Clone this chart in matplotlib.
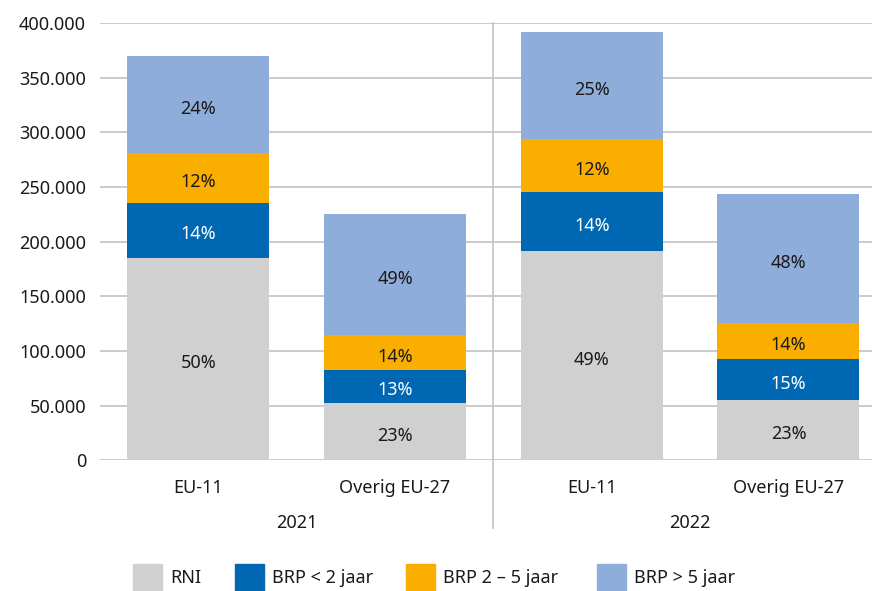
import matplotlib
matplotlib.use("Agg")
import matplotlib.pyplot as plt
from matplotlib.patches import Rectangle
from matplotlib.ticker import FuncFormatter
import matplotlib.transforms as mtransforms

plt.rcParams['font.family'] = ['Noto Sans', 'DejaVu Sans']

# Data
years = ["2021", "2022"]
groups = ["EU-11", "Overig EU-27", "EU-11", "Overig EU-27"]
series = ["RNI", "BRP < 2 jaar", "BRP 2 – 5 jaar", "BRP > 5 jaar"]
rni = [185300, 52700, 191700, 55200]
brp_lt2 = [50300, 29900, 53700, 37500]
brp_2_5 = [45200, 32000, 48200, 33100]
brp_gt5 = [89000, 110700, 98100, 117800]
y_ticks = [0, 50000, 100000, 150000, 200000, 250000, 300000, 350000, 400000]

colors = ["#d0d0d0", "#0068b3", "#f9ae00", "#8fadda"]
text_colors = ["#1a1a1a", "white", "#1a1a1a", "#1a1a1a"]

W, H = 872, 591
fig = plt.figure(figsize=(W / 100, H / 100), dpi=100)
ax_left, ax_right, ax_top, ax_bottom = 100, 872, 23, 460.3
ax = fig.add_axes([ax_left / W, (H - ax_bottom) / H,
                   (ax_right - ax_left) / W, (ax_bottom - ax_top) / H])

slot = 196.7
x = list(range(len(groups)))
totals = [a + b + c + d for a, b, c, d in zip(rni, brp_lt2, brp_2_5, brp_gt5)]
bottom = [0] * len(groups)
for vals, col, tcol in zip([rni, brp_lt2, brp_2_5, brp_gt5], colors, text_colors):
    ax.bar(x, vals, bottom=bottom, width=142 / slot, color=col, zorder=3)
    for i, v in enumerate(vals):
        pct = round(v / totals[i] * 100)
        ax.text(i, bottom[i] + v / 2 - 3800, f"{pct}%", ha="center", va="center",
                fontsize=13, color=tcol, zorder=4)
    bottom = [b + v for b, v in zip(bottom, vals)]

ax.set_ylim(0, 400000)
ax.set_xlim(-0.5, (ax_right - ax_left) / slot - 0.5)
ax.set_yticks(y_ticks)
ax.yaxis.set_major_formatter(FuncFormatter(lambda v, p: f"{int(v):,}".replace(",", ".")))
ax.tick_params(axis="y", length=0, pad=10, labelsize=13, labelcolor="#1a1a1a")
ax.set_xticks([])
ax.grid(axis="y", color="#c2c2c2", linewidth=1.2, zorder=0)
for s in ["left", "right", "top", "bottom"]:
    ax.spines[s].set_visible(False)

# Separator between the two years
trans = mtransforms.blended_transform_factory(ax.transData, ax.transAxes)
ax.plot([1.5, 1.5], [1.0, -(528 - ax_bottom) / (ax_bottom - ax_top)], transform=trans,
        color="#c2c2c2", linewidth=1.2, clip_on=False, zorder=1)

# Category and year labels
cat_y = -(488 - ax_bottom) / (ax_bottom - ax_top)
year_y = -(523 - ax_bottom) / (ax_bottom - ax_top)
for i, g in enumerate(groups):
    ax.text(i, cat_y, g, transform=trans, ha="center", va="center",
            fontsize=13, color="#1a1a1a")
for j, yr in enumerate(years):
    ax.text(2 * j + 0.5, year_y, yr, transform=trans, ha="center", va="center",
            fontsize=13, color="#1a1a1a")

# Legend
legend_x = [133, 235, 406, 597]
for lx, name, col in zip(legend_x, series, colors):
    fig.patches.append(Rectangle((lx / W, 0), 29 / W, 27 / H,
                                 transform=fig.transFigure, color=col))
    fig.text((lx + 37) / W, (H - 578) / H, name, ha="left", va="center",
             fontsize=13, color="#1a1a1a")

fig.savefig("out.png", dpi=100)
